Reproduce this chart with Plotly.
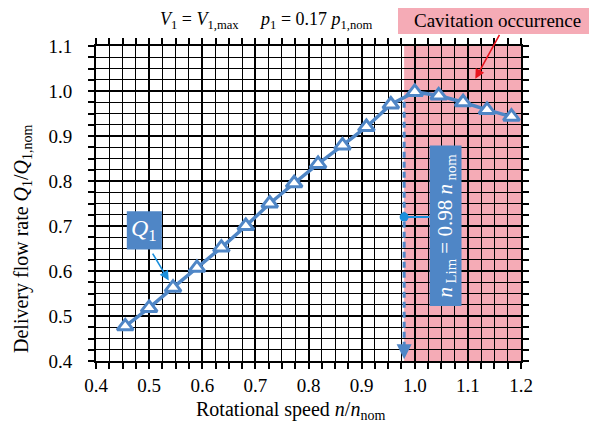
import plotly.graph_objects as go

# Data
speed = [0.455, 0.5, 0.545, 0.59, 0.636, 0.682, 0.727, 0.773, 0.818, 0.864,
         0.909, 0.955, 1.0, 1.045, 1.091, 1.136, 1.182]
flow = [0.477, 0.518, 0.563, 0.607, 0.652, 0.700, 0.750, 0.795, 0.838, 0.879,
        0.920, 0.970, 0.998, 0.990, 0.975, 0.958, 0.943]
n_lim = 0.98
x_ticks = [0.4, 0.5, 0.6, 0.7, 0.8, 0.9, 1.0, 1.1, 1.2]
y_ticks = [0.4, 0.5, 0.6, 0.7, 0.8, 0.9, 1.0, 1.1]

BLUE = "#4f86c6"
BRIGHT = "#1a8fdc"
PINK = "#f5abb6"
FONT = "Liberation Serif, Times New Roman, serif"

# page body has an 8px margin; figure sized so it fits the 597x437 window
OFF = 8
W, H = 597 - OFF, 437 - OFF
L, T = 88, 38
PW, PH = 425, 315
R, B = W - L - PW, H - T - PH


def px(xs):  # screen x -> paper
    return (xs - OFF - L) / PW


def py(ys):  # screen y -> paper
    return (T + PH - (ys - OFF)) / PH


fig = go.Figure()

# dashed limit line
fig.add_trace(go.Scatter(x=[n_lim, n_lim], y=[0.976, 0.415], mode="lines",
                         line=dict(color=BLUE, width=3, dash="6px,4px"),
                         hoverinfo="skip", showlegend=False))
# main curve
fig.add_trace(go.Scatter(x=speed, y=flow, mode="lines+markers",
                         line=dict(color=BLUE, width=3.5),
                         marker=dict(symbol="triangle-up", size=14, color="white",
                                     line=dict(color=BLUE, width=3)),
                         showlegend=False))
# connector and dot
fig.add_trace(go.Scatter(x=[n_lim, 1.028], y=[0.72, 0.72], mode="lines",
                         line=dict(color=BRIGHT, width=2), showlegend=False))
fig.add_trace(go.Scatter(x=[n_lim], y=[0.72], mode="markers",
                         marker=dict(color=BRIGHT, size=9), showlegend=False))

shapes = [
    dict(type="rect", xref="x", yref="y", x0=n_lim, x1=1.2, y0=0.4, y1=1.1,
         fillcolor=PINK, line=dict(width=0), layer="below"),
    dict(type="rect", xref="paper", yref="paper", x0=px(398), x1=px(600), y0=py(34), y1=py(5),
         fillcolor=PINK, line=dict(width=0), layer="above"),
    dict(type="rect", xref="x", yref="y", x0=0.458, x1=0.524, y0=0.648, y1=0.733,
         fillcolor=BLUE, line=dict(width=0), layer="above"),
    dict(type="rect", xref="x", yref="y", x0=1.028, x1=1.088, y0=0.522, y1=0.879,
         fillcolor=BLUE, line=dict(width=0), layer="above"),
]

C = dict(xanchor="center", yanchor="middle")
annotations = [
    dict(text="<i>V</i><sub>1</sub> = <i>V</i><sub>1,max</sub>     <i>p</i><sub>1</sub> = 0.17 <i>p</i><sub>1,nom</sub>",
         xref="paper", yref="paper", x=px(266), y=py(20), showarrow=False,
         font=dict(size=18, family=FONT, color="black"), **C),
    dict(text="Cavitation occurrence", xref="paper", yref="paper",
         x=px(497), y=py(20), showarrow=False,
         font=dict(size=19, family=FONT, color="black"), **C),
    dict(text="", xref="x", yref="y", axref="x", ayref="y", x=1.114, y=1.027,
         ax=1.161, ay=1.128, showarrow=True, arrowhead=2, arrowsize=1.2,
         arrowwidth=1.6, arrowcolor="#e8141e"),
    dict(text="<i>Q</i><sub>1</sub>", xref="x", yref="y", x=0.491, y=0.691,
         showarrow=False, font=dict(size=24, family=FONT, color="white"), **C),
    dict(text="", xref="x", yref="y", axref="x", ayref="y", x=0.537, y=0.579,
         ax=0.505, ay=0.642, showarrow=True, arrowhead=2, arrowsize=1.2,
         arrowwidth=1.6, arrowcolor=BRIGHT),
    dict(text="<i>n</i><sub> Lim</sub> = 0.98 <i>n</i><sub> nom</sub>", xref="x", yref="y",
         x=1.058, y=0.70, textangle=-90, showarrow=False,
         font=dict(size=21, family=FONT, color="white"), **C),
    dict(text="", xref="x", yref="y", axref="x", ayref="y", x=n_lim, y=0.404,
         ax=n_lim, ay=0.43, showarrow=True, arrowhead=2, arrowsize=1.0,
         arrowwidth=3, arrowcolor=BLUE),
    dict(text="Rotational speed <i>n</i>/<i>n</i><sub>nom</sub>", xref="paper", yref="paper",
         x=px(290), y=py(411), showarrow=False,
         font=dict(size=20, family=FONT, color="black"), **C),
    dict(text="Delivery flow rate <i>Q</i><sub>1</sub>/<i>Q</i><sub>1,nom</sub>",
         xref="paper", yref="paper", x=px(22), y=py(239),
         textangle=-90, showarrow=False,
         font=dict(size=20, family=FONT, color="black"), **C),
]

axis_common = dict(
    showline=True, linecolor="black", linewidth=2, mirror="allticks",
    ticks="outside", ticklen=6, tickwidth=1.5, tickcolor="black",
    showgrid=True, gridcolor="black", gridwidth=2, zeroline=False, automargin=False,
    tickfont=dict(size=19, family=FONT, color="black"), tickformat=".1f",
)
minor = dict(dtick=0.025, tick0=0.4, showgrid=True, gridcolor="black",
             gridwidth=1.2, ticks="outside", ticklen=6, tickcolor="black", tickwidth=1.5)

fig.update_layout(
    template="none",
    width=W, height=H,
    margin=dict(l=L, r=R, t=T, b=B),
    font=dict(family=FONT),
    paper_bgcolor="white", plot_bgcolor="white",
    shapes=shapes, annotations=annotations, showlegend=False,
    xaxis=dict(range=[0.4, 1.2], tickvals=x_ticks, ticklabelstandoff=0,
               minor=minor, **axis_common),
    yaxis=dict(range=[0.4, 1.1], tickvals=y_ticks, ticklabelstandoff=12,
               minor=minor, **axis_common),
)

fig.write_html("out.html")
